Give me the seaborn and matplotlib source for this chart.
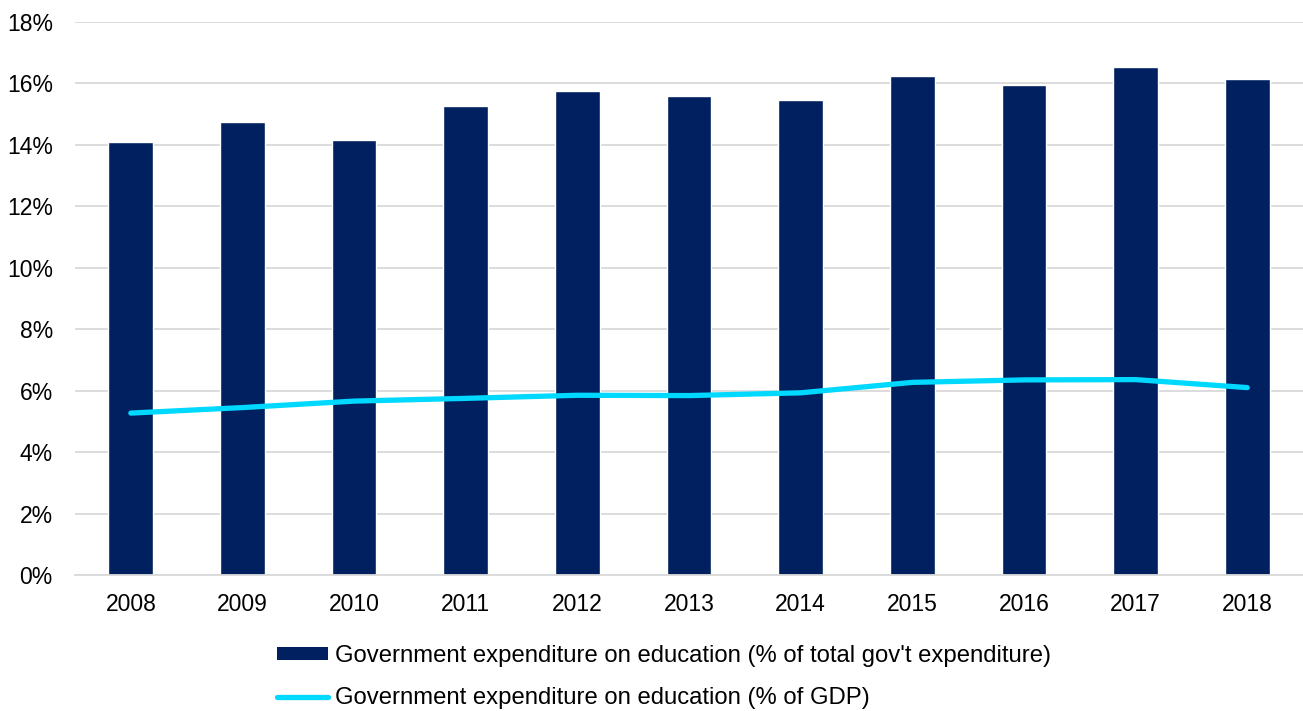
import numpy as np
import pandas as pd
import matplotlib
matplotlib.use("Agg")
import matplotlib.pyplot as plt
import seaborn as sns
from matplotlib.ticker import FuncFormatter
from matplotlib.patches import Patch
from matplotlib.lines import Line2D

years = ["2008", "2009", "2010", "2011", "2012", "2013", "2014", "2015", "2016", "2017", "2018"]
pct_total_exp = [14.08, 14.73, 14.16, 15.28, 15.74, 15.60, 15.46, 16.24, 15.94, 16.52, 16.16]
pct_gdp = [5.27, 5.45, 5.66, 5.75, 5.85, 5.84, 5.93, 6.27, 6.35, 6.36, 6.10]
label_bar = "Government expenditure on education (% of total gov't expenditure)"
label_line = "Government expenditure on education (% of GDP)"
yticks = [0, 2, 4, 6, 8, 10, 12, 14, 16, 18]

sns.set_theme(style="white")
plt.rcParams['font.family'] = ['Liberation Sans', 'DejaVu Sans']

bar_color = "#002060"
line_color = "#00D9FF"

fig = plt.figure(figsize=(13.03, 7.11), dpi=100)
ax = fig.add_axes([75/1303, 1 - 575/711, (1303 - 75)/1303, (575 - 22)/711])

df = pd.DataFrame({"year": years, "total": pct_total_exp, "gdp": pct_gdp})
sns.barplot(data=df, x="year", y="total", color=bar_color, width=0.4,
            saturation=1, ax=ax, zorder=2)
sns.lineplot(x=np.arange(len(years)), y=df["gdp"].values, color=line_color,
             linewidth=3.8, ax=ax, zorder=3, solid_capstyle="round",
             solid_joinstyle="round")

ax.set_ylim(0, 18)
ax.set_xlim(-0.5, len(years) - 0.5)
ax.set_yticks(yticks)
ax.yaxis.set_major_formatter(FuncFormatter(lambda v, p: f"{int(v)}%"))
ax.grid(axis="y", color="#D9D9D9", linewidth=1.3, zorder=0)
ax.set_axisbelow(True)
for s in ["top", "right", "left"]:
    ax.spines[s].set_visible(False)
ax.spines["bottom"].set_color("#D9D9D9")
ax.spines["bottom"].set_linewidth(1.3)
ax.tick_params(axis="both", length=0, labelsize=16.5, colors="#000000")
ax.tick_params(axis="x", pad=13)
ax.tick_params(axis="y", pad=16)
ax.set_xlabel("")
ax.set_ylabel("")

handles = [Patch(facecolor=bar_color, edgecolor="none"),
           Line2D([0], [0], color=line_color, linewidth=3.8, solid_capstyle="round")]
fig.legend(handles, [label_bar, label_line], loc="upper left",
           bbox_to_anchor=(277/1303, 1 - 645/711), frameon=False,
           borderpad=0, borderaxespad=0, labelcolor="black",
           fontsize=17.2, handlelength=2.14, handleheight=0.5,
           handletextpad=0.3, labelspacing=0.85)

fig.savefig("out.png", dpi=100)
